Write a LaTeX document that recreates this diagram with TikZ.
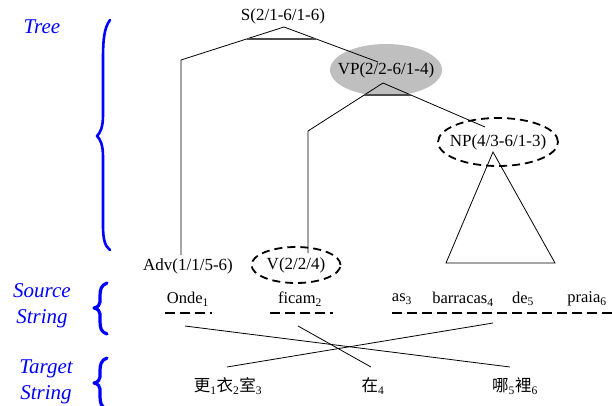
\documentclass[tikz,border=0pt]{standalone}
\usepackage{fontspec}
\setmainfont{Liberation Serif}
\newfontfamily\cjk{Noto Sans CJK TC}
\usetikzlibrary{shapes.geometric}

\newcommand\idx[1]{\textsubscript{#1}}

\tikzset{
  lbl/.style={font=\fontsize{17}{19}\selectfont, inner sep=1pt},
  word/.style={font=\fontsize{16.5}{19}\selectfont, inner sep=1pt},
  side/.style={text=blue, font=\fontsize{21}{26}\selectfont\itshape, align=center},
  brc/.style={draw=blue, line width=2.6pt, line cap=round, line join=round},
  branch/.style={line width=0.8pt},
  bar/.style={draw=black!70, line width=1.4pt},
  oval/.style={ellipse, inner sep=0pt, font=\fontsize{17}{19}\selectfont},
  dashoval/.style={oval, draw, line width=1.8pt, dash pattern=on 8pt off 5pt},
  uline/.style={line width=1.8pt, dash pattern=on 10pt off 5pt},
}

\begin{document}
\begin{tikzpicture}[x=1pt, y=-1pt]
    \useasboundingbox (0,0) rectangle (612,406);

    % labels on the left with their braces
    \node[side] (tree) at (42,27) {Tree};
    \node[side] (src) at (42,306) {Source\\String};
    \node[side] (tgt) at (46,382) {Target\\String};
    \draw[brc] (110,20) .. controls (104,28) and (103,40) .. (103,60) -- (103,115)
        .. controls (103,128) and (100,133) .. (97,136)
        .. controls (100,139) and (103,144) .. (103,157) -- (103,225)
        .. controls (103,240) and (105,246) .. (110,250);
    \draw[brc, line width=3.2pt] (107,283) .. controls (101,285) and (100,290) .. (100,296) -- (100,302)
        .. controls (100,305) and (98,307) .. (94,308)
        .. controls (98,309) and (100,311) .. (100,314) -- (100,321)
        .. controls (100,328) and (101,332) .. (107,334);
    \draw[brc, line width=3.2pt] (107,358) .. controls (101,360) and (100,365) .. (100,371) -- (100,377)
        .. controls (100,380) and (98,382) .. (94,383)
        .. controls (98,384) and (100,386) .. (100,389) -- (100,396)
        .. controls (100,403) and (101,407) .. (107,409);

    % tree nodes
    \node[lbl] (S) at (283,16) {S(2/1-6/1-6)};
    \node[oval, fill=black!25, minimum width=112pt, minimum height=52pt] (VP) at (386,70) {\makebox[0pt]{VP(2/2-6/1-4)}};
    \node[dashoval, minimum width=120pt, minimum height=48pt] (NP) at (498,142) {\makebox[0pt]{NP(4/3-6/1-3)}};
    \node[lbl] (Adv) at (188,266) {Adv(1/1/5-6)};
    \node[dashoval, minimum width=89pt, minimum height=36pt] (V) at (296,265) {\makebox[0pt]{V(2/2/4)}};

    \coordinate (advTop) at (181,60);
    \coordinate (vTop) at (308,131);
    \coordinate (triL) at (446,263);
    \coordinate (triR) at (555,263);

    % branches
    \draw[branch] ([xshift=-7pt,yshift=11pt]Adv.center) -- (advTop) -- ([xshift=1pt,yshift=-11pt]S.center)
        -- ([xshift=-8pt,yshift=8pt]VP.center);
    \draw[branch] ([xshift=12pt,yshift=12pt]V.center) -- (vTop) -- ([xshift=-3pt,yshift=-13pt]VP.center)
        -- ([xshift=-13pt,yshift=15pt]NP.center);
    \draw[branch] ([xshift=-5pt,yshift=-10pt]NP.center) -- (triL) -- (triR) -- cycle;
    \draw[bar] (247,39) -- (316,39);
    \draw[bar] (364,95) -- (411,95);

    % source words
    \foreach \x/\w/\n/\nm in {188/Onde/1/onde, 300/ficam/2/ficam, 402/as/3/as,
                               463/barracas/4/barracas, 523/de/5/de, 587/praia/6/praia}
        \node[word] (\nm) at (\x,299) {\w\idx{\n}};
    \draw[uline] (165,313) -- (212,313);
    \draw[uline] (270,313) -- (333,313);
    \draw[uline] (392,313) -- (614,313);

    % target words
    \node[word] (geng) at (228,386) {{\cjk 更}\idx{1}{\cjk 衣}\idx{2}{\cjk 室}\idx{3}};
    \node[word] (zai) at (373,386) {{\cjk 在}\idx{4}};
    \node[word] (nali) at (515,386) {{\cjk 哪}\idx{5}{\cjk 裡}\idx{6}};

    % alignment
    \draw[branch] ([xshift=-3pt,yshift=-27pt]onde.center) -- ([xshift=-5pt,yshift=19pt]nali.center);
    \draw[branch] ([xshift=-2pt,yshift=-27pt]ficam.center) -- ([xshift=-2pt,yshift=19pt]zai.center);
    \draw[branch] ([xshift=30pt,yshift=-24pt]barracas.center) -- ([xshift=-1pt,yshift=19pt]geng.center);
\end{tikzpicture}
\end{document}
